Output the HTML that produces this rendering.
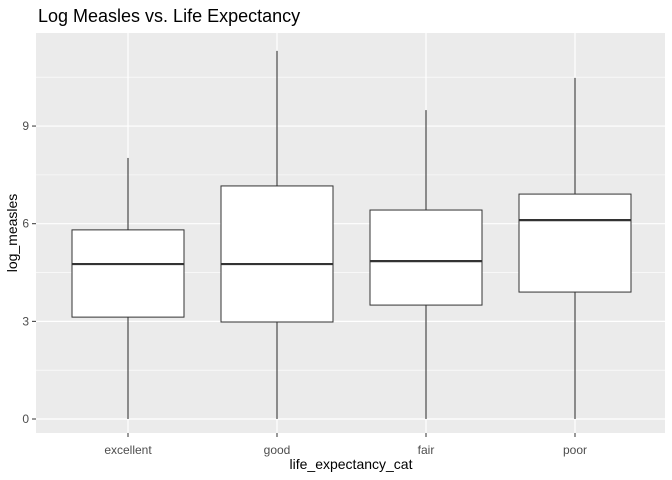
<!DOCTYPE html>
<html><head><meta charset="utf-8"><style>
body{margin:0;background:#fff;}
svg{display:block;font-family:"Liberation Sans",sans-serif;}
</style></head><body>
<svg id="chart" width="672" height="480">
<text x="38" y="22" font-size="18" fill="#000">Log Measles vs. Life Expectancy</text>
<rect x="36" y="33" width="629" height="400" fill="#ebebeb"/>
<g id="grid"></g><g id="boxes"></g><g id="axes"></g>
<text x="351" y="469" font-size="14" text-anchor="middle" fill="#000">life_expectancy_cat</text>
<text transform="translate(17,233) rotate(-90)" font-size="14" text-anchor="middle" fill="#000">log_measles</text>
</svg>
<script>
const categories=["excellent","good","fair","poor"];
const mins=[0,0,0,0];
const q1s=[3.13,2.98,3.50,3.90];
const medians=[4.76,4.76,4.85,6.11];
const q3s=[5.81,7.16,6.42,6.91];
const maxs=[8.02,11.31,9.49,10.48];
const yTicks=[0,3,6,9];
const yMinor=[1.5,4.5,7.5,10.5];
const ns="http://www.w3.org/2000/svg";
const y=v=>419-32.55*v;
const x=i=>128+149*i;
const bw=112;
function mk(t,a,p){const e=document.createElementNS(ns,t);for(const k in a)e.setAttribute(k,a[k]);p.appendChild(e);return e;}
const g=document.getElementById('grid'),b=document.getElementById('boxes'),ax=document.getElementById('axes');
yMinor.forEach(v=>{const l=mk('line',{x1:36,x2:665,y1:y(v),y2:y(v),stroke:'#fff','stroke-width':0.6},g);

});
yTicks.forEach(v=>{const l=mk('line',{x1:36,x2:665,y1:y(v),y2:y(v),stroke:'#fff','stroke-width':1.2},g);


const t=mk('line',{x1:32,x2:36,y1:y(v),y2:y(v),stroke:'#333','stroke-width':1},ax);


const tx=mk('text',{x:29,y:y(v)+4,'font-size':12,'text-anchor':'end',fill:'#4d4d4d'},ax);tx.textContent=v;

});
categories.forEach((c,i)=>{const cx=x(i);
const vl=mk('line',{x1:cx,x2:cx,y1:33,y2:433,stroke:'#fff','stroke-width':1.2},g);


const w1=mk('line',{x1:cx,x2:cx,y1:y(q3s[i]),y2:y(maxs[i]),stroke:'#333','stroke-width':1.07},b);


const w2=mk('line',{x1:cx,x2:cx,y1:y(q1s[i]),y2:y(mins[i]),stroke:'#333','stroke-width':1.07},b);


const r=mk('rect',{x:cx-bw/2,y:y(q3s[i]),width:bw,height:y(q1s[i])-y(q3s[i]),fill:'#fff',stroke:'#333','stroke-width':1},b);


const m=mk('line',{x1:cx-bw/2,x2:cx+bw/2,y1:y(medians[i]),y2:y(medians[i]),stroke:'#333','stroke-width':2.2},b);


const t=mk('line',{x1:cx,x2:cx,y1:433,y2:437,stroke:'#333','stroke-width':1},ax);


const tx=mk('text',{x:cx,y:454,'font-size':12,'text-anchor':'middle',fill:'#4d4d4d'},ax);tx.textContent=c;

});
</script>
</body></html>
